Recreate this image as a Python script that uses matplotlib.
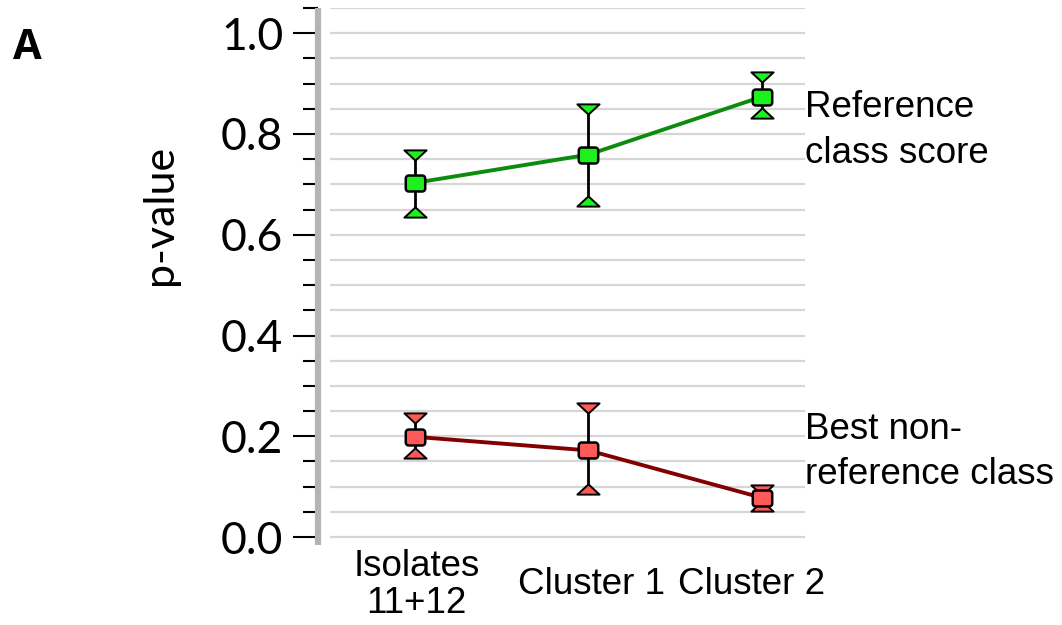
import matplotlib.pyplot as plt
from matplotlib.path import Path
from matplotlib.ticker import MultipleLocator
import matplotlib.transforms as mtransforms
import numpy as np

categories = ["Isolates\n11+12", "Cluster 1", "Cluster 2"]
ref_mean = [0.703, 0.759, 0.874]
ref_low = [0.645, 0.667, 0.841]
ref_high = [0.758, 0.849, 0.913]
non_mean = [0.199, 0.172, 0.078]
non_low = [0.167, 0.095, 0.061]
non_high = [0.236, 0.256, 0.093]
series_labels = ["Reference\nclass score", "Best non-\nreference class"]
label_y = [0.807, 0.169]


def rounded_box(w=0.5, h=0.41, r=0.15, n=6):
    verts = []
    corners = [(w - r, h - r, 0), (-w + r, h - r, 90), (-w + r, -h + r, 180), (w - r, -h + r, 270)]
    for cx, cy, a0 in corners:
        for t in np.linspace(np.radians(a0), np.radians(a0 + 90), n):
            verts.append((cx + r * np.cos(t), cy + r * np.sin(t)))
    verts.append(verts[0])
    return Path(verts, closed=True)


box = rounded_box()
tri_down = Path([(-0.5, 0.23), (0.5, 0.23), (0, -0.23), (-0.5, 0.23)], closed=True)
tri_up = Path([(-0.5, -0.23), (0.5, -0.23), (0, 0.23), (-0.5, -0.23)], closed=True)

fig = plt.figure(figsize=(10.62, 6.25), dpi=100)
ax = fig.add_axes([0.2994, 0.1286, 0.4586, 0.8586])
x = np.arange(len(categories))

ax.set_xlim(-0.559, 2.248)
ax.set_ylim(-0.015, 1.05)

# grid lines (start a little right of the axis)
for g in np.arange(0, 1.051, 0.05):
    ax.plot([-0.49, 2.248], [g, g], color='#d6d6d6', lw=1.6, zorder=0, solid_capstyle='butt')

groups = [
    (ref_mean, ref_low, ref_high, '#0c8c0c', '#1ef01e'),
    (non_mean, non_low, non_high, '#820000', '#ff5a5a'),
]
for mean, low, high, lc, fc in groups:
    ax.plot(x, mean, color=lc, lw=2.8, zorder=2)
    ax.vlines(x, low, high, color='black', lw=2.0, zorder=3)
    ax.plot(x, high, linestyle='none', marker=tri_down, markersize=16,
            markerfacecolor=fc, markeredgecolor='black', markeredgewidth=1.4, zorder=4)
    ax.plot(x, low, linestyle='none', marker=tri_up, markersize=16,
            markerfacecolor=fc, markeredgecolor='black', markeredgewidth=1.4, zorder=4)
    ax.plot(x, mean, linestyle='none', marker=box, markersize=14,
            markerfacecolor=fc, markeredgecolor='black', markeredgewidth=1.8, zorder=5)

for s in ['top', 'right', 'bottom']:
    ax.spines[s].set_visible(False)
ax.spines['left'].set_color('#b4b4b4')
ax.spines['left'].set_linewidth(4.5)
ax.spines['left'].set_capstyle('butt')

ax.yaxis.set_major_locator(MultipleLocator(0.2))
ax.yaxis.set_minor_locator(MultipleLocator(0.05))
ax.tick_params(axis='y', which='major', length=18, width=1.5, pad=7, labelsize=32)
ax.tick_params(axis='y', which='minor', length=11, width=1.5)
ax.set_yticks([0.0, 0.2, 0.4, 0.6, 0.8, 1.0])
ax.set_yticklabels(['0.0', '0.2', '0.4', '0.6', '0.8', '1.0'], family='Lato')
ax.set_xticks([])

trans = mtransforms.blended_transform_factory(ax.transData, ax.transAxes)
x_shift = [0.01, 0.02, -0.06]
for xi, lab, dx in zip(x, categories, x_shift):
    ax.text(xi + dx, -0.075, lab, transform=trans, ha='center', va='center',
            fontsize=26.5, family='Liberation Sans', linespacing=1.08)

trans2 = mtransforms.blended_transform_factory(ax.transAxes, ax.transData)
for lab, yy in zip(series_labels, label_y):
    ax.text(1.0, yy, lab, transform=trans2, ha='left', va='center',
            fontsize=26.5, family='Liberation Sans', linespacing=1.38, clip_on=False)

fig.text(0.151, 0.656, 'p-value', rotation=90, ha='center', va='center',
         fontsize=31, family='Lato')
fig.text(0.026, 0.922, 'A', ha='center', va='center', fontsize=30,
         family='Open Sans', fontweight='bold')

fig.savefig('out.png', dpi=100)
